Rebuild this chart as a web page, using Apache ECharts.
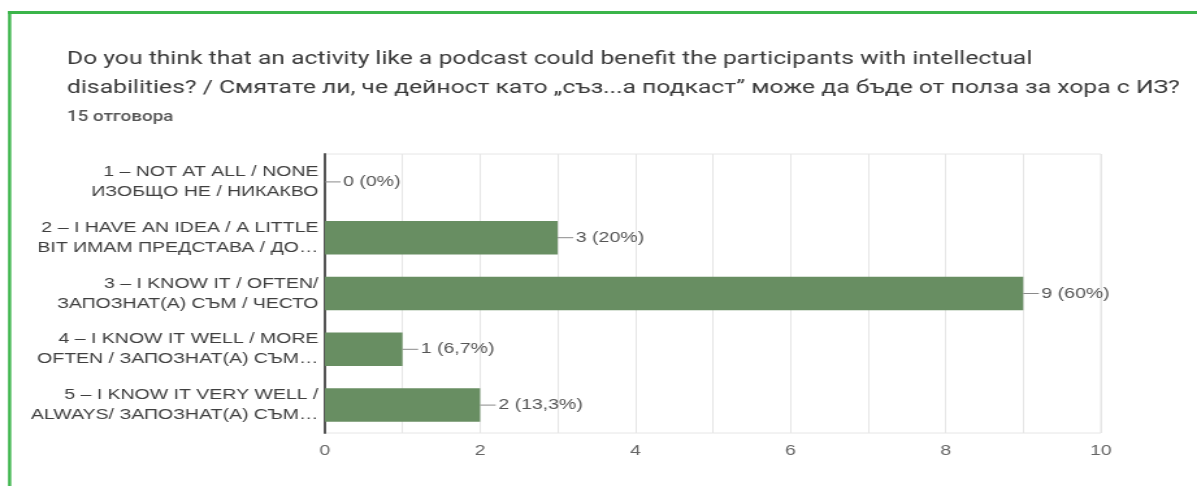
<!DOCTYPE html>
<html>
<head>
<meta charset="utf-8">
<script src="https://cdn.jsdelivr.net/npm/echarts@6/dist/echarts.min.js"></script>
<style>
  html, body { margin: 0; padding: 0; background: #ffffff; overflow: hidden; }
  /* the card is laid out at 921px and shown stretched across the 1197px window */
  #chart {
    width: 921px;
    height: 486px;
    transform: scaleX(1.29967);
    transform-origin: 0 0;
  }
</style>
</head>
<body>
<div id="chart"></div>
<script>
// Survey answers (top to bottom)
const categories = [
  '1 – NOT AT ALL / NONE\nИЗОБЩО НЕ / НИКАКВО',
  '2 – I HAVE AN IDEA / A LITTLE\nBIT ИМАМ ПРЕДСТАВА / ДО…',
  '3 – I KNOW IT / OFTEN/\nЗАПОЗНАТ(А) СЪМ / ЧЕСТО',
  '4 – I KNOW IT WELL / MORE\nOFTEN / ЗАПОЗНАТ(А) СЪМ…',
  '5 – I KNOW IT VERY WELL /\nALWAYS/ ЗАПОЗНАТ(А) СЪМ…'
];
const counts = [0, 3, 9, 1, 2];
const percents = ['0%', '20%', '60%', '6,7%', '13,3%'];

const titleText = 'Do you think that an activity like a podcast could benefit the participants with intellectual\n' +
  'disabilities? / Смятате ли, че дейност като „съз...а подкаст” може да бъде от полза за хора с ИЗ?';
const responsesText = '15 отговора';

const chart = echarts.init(document.getElementById('chart'), null, { renderer: 'canvas' });

chart.setOption({
  backgroundColor: '#ffffff',
  animation: false,
  title: [
    {
      text: titleText,
      left: 46.5,
      top: 40,
      textStyle: {
        fontFamily: 'Roboto',
        fontSize: 19,
        fontWeight: 'normal',
        color: '#3a3a3a',
        lineHeight: 29
      }
    },
    {
      text: responsesText,
      left: 46.5,
      top: 105,
      textStyle: {
        fontFamily: 'Roboto',
        fontSize: 14.5,
        fontWeight: 500,
        color: '#555555'
      }
    }
  ],
  graphic: [
    // green frame (top and left edges)
    { type: 'rect', shape: { x: 6.2, y: 11, width: 921, height: 3 }, style: { fill: '#3bb54a' } },
    { type: 'rect', shape: { x: 6.2, y: 11, width: 2.4, height: 475 }, style: { fill: '#3bb54a' } }
  ],
  grid: {
    left: 250,
    right: 74,
    top: 154,
    bottom: 53,
    show: true,
    borderColor: '#e6e6e6',
    borderWidth: 1
  },
  xAxis: {
    type: 'value',
    min: 0,
    max: 10,
    interval: 2,
    axisLine: { show: false },
    axisTick: { show: false },
    axisLabel: {
      color: '#666666',
      fontFamily: 'Liberation Sans',
      fontSize: 15,
      margin: 10
    },
    splitLine: { show: true, lineStyle: { color: '#e6e6e6', width: 1 } },
    minorTick: { show: false, splitNumber: 2 },
    minorSplitLine: { show: true, lineStyle: { color: '#e6e6e6', width: 1 } }
  },
  yAxis: {
    type: 'category',
    data: categories,
    inverse: true,
    axisLine: { show: true, lineStyle: { color: '#555555', width: 2 } },
    axisTick: { show: false },
    axisLabel: {
      color: '#3f3f3f',
      fontFamily: 'Liberation Sans',
      fontSize: 15,
      lineHeight: 20,
      align: 'right',
      margin: 5
    }
  },
  series: [
    {
      type: 'bar',
      data: counts,
      barWidth: '60%',
      itemStyle: { color: '#688e62' },
      label: {
        show: true,
        position: 'right',
        distance: 0,
        formatter: (p) => '{ln|}{v|' + counts[p.dataIndex] + ' (' + percents[p.dataIndex] + ')}',
        rich: {
          ln: { width: 12, height: 1, backgroundColor: '#8a8a8a' },
          v: {
            color: '#555555',
            fontFamily: 'Liberation Sans',
            fontSize: 15,
            padding: [0, 0, 0, 2]
          }
        }
      }
    }
  ]
});
</script>
</body>
</html>
